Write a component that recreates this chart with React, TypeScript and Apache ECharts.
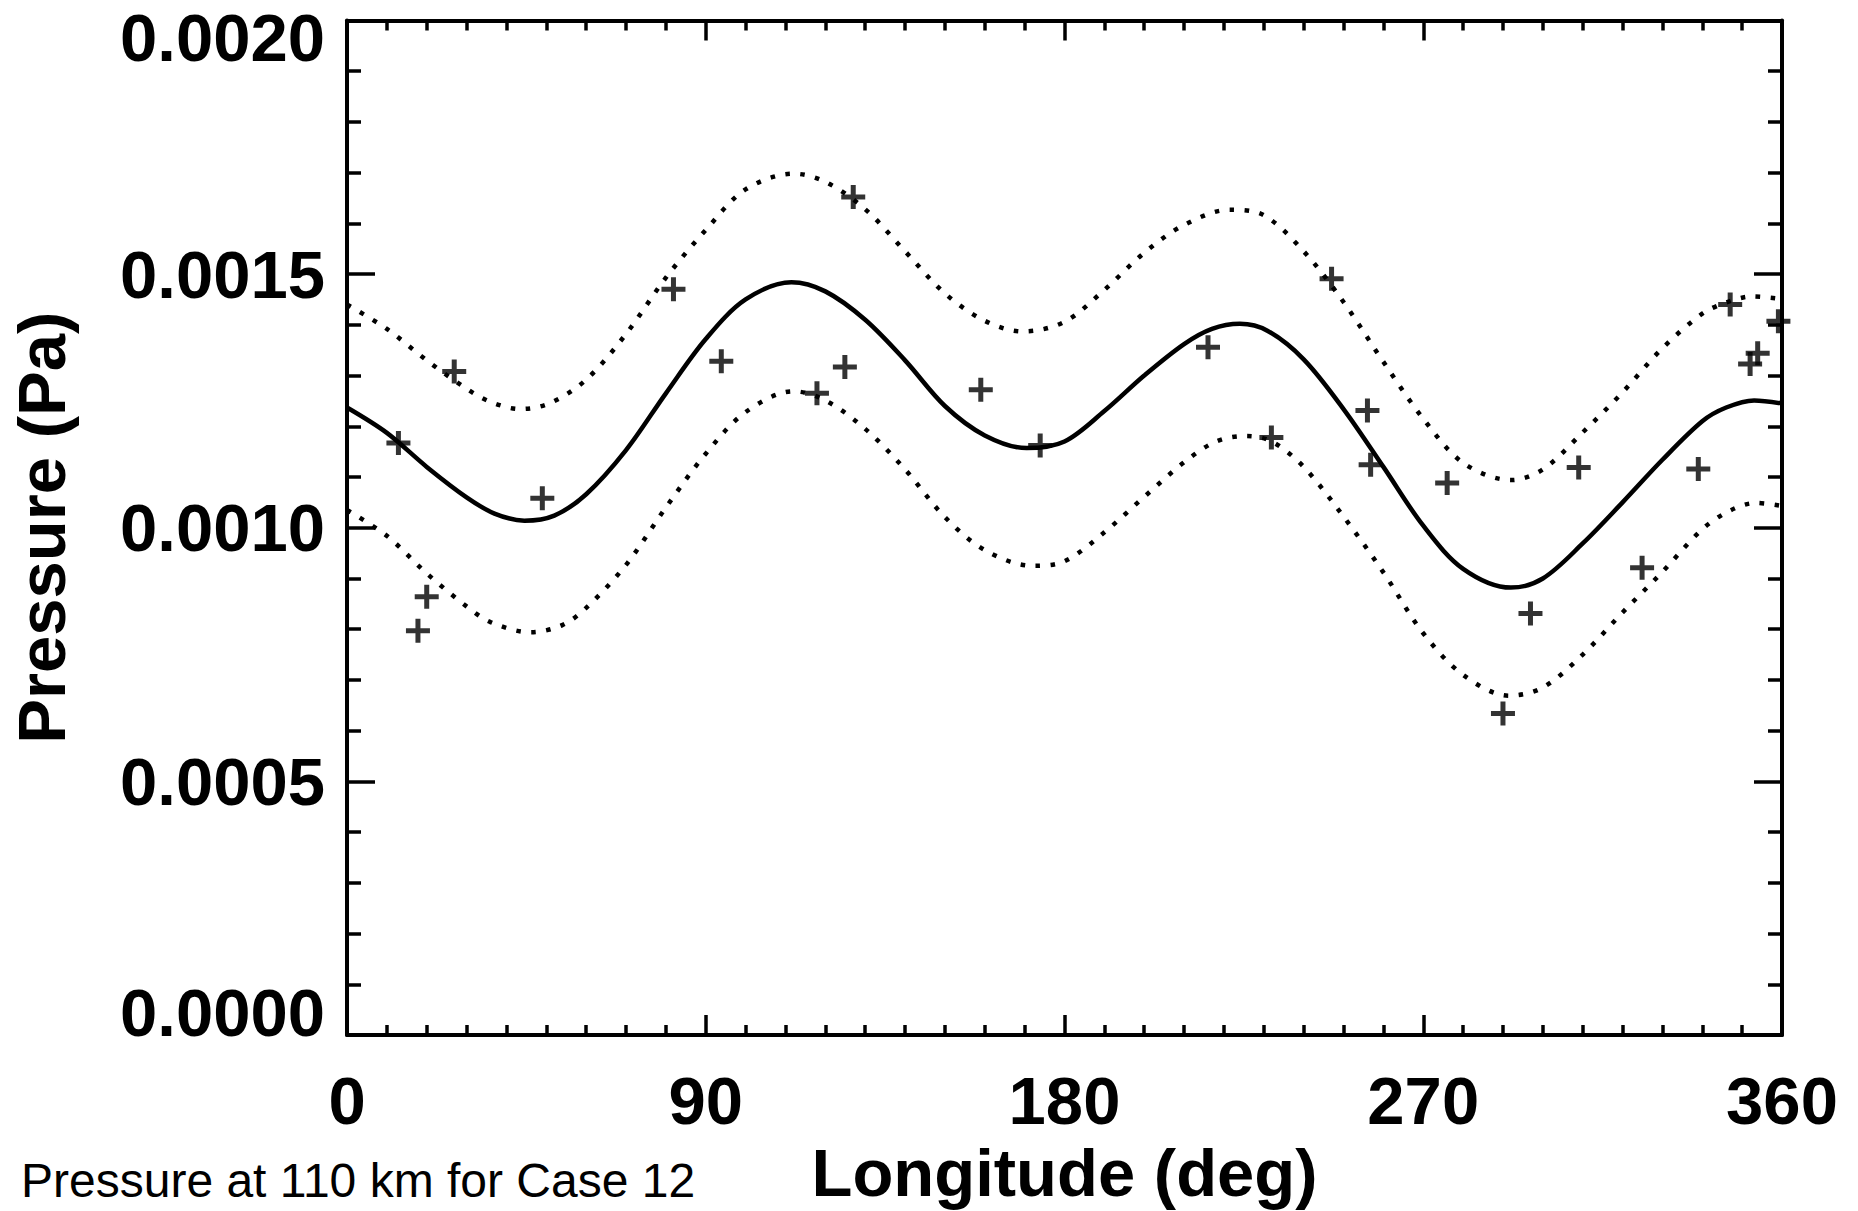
import React, { useEffect, useRef } from 'react';
import * as echarts from 'echarts';

// Observations (+)
const obsLon = [12.9, 26.9, 17.8, 20.0, 49.0, 81.9, 93.9, 117.9, 124.9, 127.0, 159.0, 173.9, 216.0, 231.9, 247.0, 256.0, 256.8, 276.0, 290.0, 296.9, 309.0, 324.9, 339.0, 347.0, 352.0, 353.9, 359.1];
const obsP = [0.001167, 0.001308, 0.000797, 0.000864, 0.001058, 0.00147, 0.001328, 0.001265, 0.001317, 0.001652, 0.001272, 0.001162, 0.001356, 0.001178, 0.001491, 0.001231, 0.001124, 0.001088, 0.000634, 0.000831, 0.001119, 0.000921, 0.001116, 0.00144, 0.001323, 0.001344, 0.001407];

// Fitted curve (solid)
const fitLon = [0, 10, 20, 30, 37, 44.5, 52, 60, 70, 80, 90, 100, 111.5, 120, 130, 140, 150, 160, 170.5, 180, 190, 200, 210, 217, 224, 231, 240, 250, 260, 270, 280, 292, 300, 310, 320, 330, 340, 346, 353, 360];
const fitP = [0.001237, 0.001187, 0.00112, 0.00106, 0.001028, 0.001014, 0.001024, 0.001066, 0.001153, 0.001265, 0.001372, 0.00145, 0.001484, 0.001466, 0.00141, 0.00133, 0.00124, 0.001182, 0.001157, 0.00117, 0.00123, 0.0013, 0.001362, 0.001392, 0.001402, 0.001388, 0.001332, 0.001234, 0.00112, 0.001004, 0.000919, 0.000882, 0.0009, 0.000969, 0.00105, 0.001134, 0.00121, 0.001237, 0.001251, 0.001245];

// Upper bound (dotted)
const upperLon = [0, 10, 20, 30, 36, 43.5, 51, 60, 70, 80, 90, 100, 112, 120, 130, 140, 150, 160, 169.5, 180, 190, 200, 210, 221.5, 230, 240, 250, 260, 270, 280, 292, 300, 310, 320, 330, 340, 346, 352.5, 360];
const upperP = [0.00144, 0.001392, 0.00133, 0.001274, 0.001248, 0.001234, 0.001246, 0.001292, 0.001382, 0.001493, 0.001587, 0.001667, 0.001698, 0.001682, 0.001628, 0.001545, 0.001462, 0.001408, 0.001387, 0.001406, 0.001469, 0.001542, 0.001597, 0.001627, 0.001616, 0.001545, 0.001445, 0.001327, 0.001215, 0.001128, 0.001094, 0.001115, 0.001188, 0.001267, 0.001354, 0.001422, 0.001444, 0.001456, 0.001451];

// Lower bound (dotted)
const lowerLon = [0, 10, 20, 30, 36, 46, 54, 60, 70, 80, 90, 100, 112, 120, 130, 140, 150, 160, 172, 180, 190, 200, 210, 218, 225.5, 232, 240, 250, 260, 270, 280, 291.5, 300, 310, 320, 330, 340, 347, 353.5, 360];
const lowerP = [0.001035, 0.000984, 0.00091, 0.000845, 0.000814, 0.000794, 0.000808, 0.000842, 0.000927, 0.00104, 0.001146, 0.001228, 0.001269, 0.001251, 0.001195, 0.001115, 0.001021, 0.000956, 0.000925, 0.000934, 0.000991, 0.001061, 0.001129, 0.00117, 0.001181, 0.00117, 0.00112, 0.001022, 0.000912, 0.000792, 0.00071, 0.000669, 0.000685, 0.00075, 0.000833, 0.000913, 0.000997, 0.001034, 0.001049, 0.001043];

const xMin = 0, xMax = 360, xStep = 90;
const yMin = 0, yMax = 0.002, yStep = 0.0005;

const xTitle = 'Longitude (deg)';
const yTitle = 'Pressure (Pa)';
const caption = 'Pressure at 110 km for Case 12';

const FONT = 'Liberation Sans, Arial, Helvetica, sans-serif';
const PLUS = 'path://M9.5,0H14.5V9.5H24V14.5H14.5V24H9.5V14.5H0V9.5H9.5Z';
const SMOOTH = 0.33;

const zip = (a: number[], b: number[]) => a.map((v, i) => [v, b[i]]);

export default function App() {
  const ref = useRef<HTMLDivElement>(null);
  useEffect(() => {
    if (!ref.current) return;
    const chart = echarts.init(ref.current, undefined, { renderer: 'svg' });
    const axisLine = { show: true, onZero: false, lineStyle: { color: '#000', width: 4 } };
    const labelStyle = { fontSize: 67, fontWeight: 'bold' as const, fontFamily: FONT, color: '#000' };
    const xCommon = {
      type: 'value' as const, min: xMin, max: xMax, interval: xStep,
      axisLine,
      axisTick: { show: true, inside: true, length: 20, lineStyle: { color: '#000', width: 3.5 } },
      minorTick: { show: true, splitNumber: 9, length: 10, lineStyle: { color: '#000', width: 3.5 } },
      splitLine: { show: false }, minorSplitLine: { show: false },
    };
    const yCommon = {
      type: 'value' as const, min: yMin, max: yMax, interval: yStep,
      axisLine,
      axisTick: { show: true, inside: true, length: 28, lineStyle: { color: '#000', width: 3.5 } },
      minorTick: { show: true, splitNumber: 5, length: 14, lineStyle: { color: '#000', width: 3.5 } },
      splitLine: { show: false }, minorSplitLine: { show: false },
    };
    const dotted = { color: '#000', width: 4.5, type: [4.5, 10.5] };
    chart.setOption({
      animation: false,
      backgroundColor: '#fff',
      grid: { left: 344, top: 20.5, width: 1438, height: 1018, containLabel: false },
      xAxis: [
        {
          ...xCommon, position: 'bottom',
          axisLabel: { ...labelStyle, margin: 32, formatter: (v: number) => String(v) },
          name: xTitle, nameLocation: 'middle', nameGap: 104,
          nameTextStyle: { ...labelStyle },
        },
        { ...xCommon, position: 'top', axisLabel: { show: false } },
      ],
      yAxis: [
        {
          ...yCommon, position: 'left',
          axisLabel: {
            ...labelStyle, margin: 22,
            formatter: (v: number) => {
              const s = v.toFixed(4);
              if (v >= yMax - 1e-9) return `{top|${s}}`;
              if (v <= yMin + 1e-9) return `{bot|${s}}`;
              return `{mid|${s}}`;
            },
            rich: {
              top: { ...labelStyle, padding: [33, 0, 0, 0] },
              bot: { ...labelStyle, padding: [0, 0, 45, 0] },
              mid: { ...labelStyle },
            },
          },
          name: yTitle, nameLocation: 'middle', nameGap: 272,
          nameTextStyle: { ...labelStyle },
        },
        { ...yCommon, position: 'right', axisLabel: { show: false } },
      ],
      series: [
        {
          type: 'line', data: zip(fitLon, fitP), smooth: SMOOTH, showSymbol: false,
          lineStyle: { color: '#000', width: 4.5 }, z: 3,
        },
        {
          type: 'line', data: zip(upperLon, upperP), smooth: SMOOTH, showSymbol: false,
          lineStyle: dotted, z: 3,
        },
        {
          type: 'line', data: zip(lowerLon, lowerP), smooth: SMOOTH, showSymbol: false,
          lineStyle: dotted, z: 3,
        },
        {
          type: 'scatter', data: zip(obsLon, obsP), symbol: PLUS, symbolSize: 24,
          itemStyle: { color: '#000' }, z: 4,
        },
      ],
      graphic: [
        {
          type: 'text', x: 21, y: 1180,
          style: { text: caption, fontSize: 48, fontFamily: FONT, fill: '#000', align: 'left', verticalAlign: 'middle' },
        },
      ],
    });
    return () => chart.dispose();
  }, []);
  return <div ref={ref} style={{ position: 'fixed', left: 0, top: 0, width: 1858, height: 1211, background: '#fff' }} />;
}
